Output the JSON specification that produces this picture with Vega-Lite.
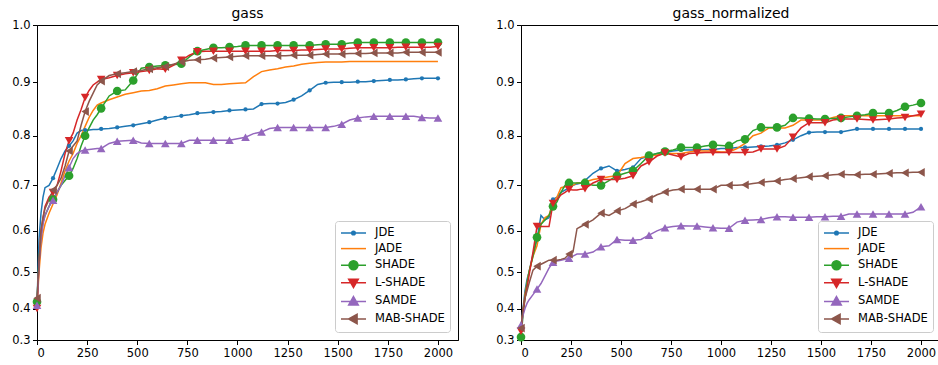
{
  "$schema": "https://vega.github.io/schema/vega-lite/v6.json",
  "padding": {"left": 6, "top": 6, "right": 0, "bottom": 0},
  "config": {
    "font": "DejaVu Sans",
    "view": {"stroke": "#000000", "strokeWidth": 1},
    "axis": {
      "grid": false,
      "domainColor": "#000000",
      "tickColor": "#000000",
      "tickSize": 4.5,
      "labelFontSize": 11.5,
      "labelColor": "#000000",
      "labelFont": "DejaVu Sans",
      "labelPadding": 2.5,
      "title": null
    },
    "title": {"fontSize": 14, "fontWeight": "normal", "color": "#000000", "font": "DejaVu Sans", "offset": -2}
  },
  "datasets": {
    "runs": [
      {"p":"gass","x":0,"JDE":0.41,"JADE":0.40,"SHADE":0.42,"L-SHADE":0.40,"SAMDE":0.41,"MAB-SHADE":0.43},
      {"p":"gass","x":10,"JDE":0.58,"JADE":0.50,"SHADE":0.53,"L-SHADE":0.52,"SAMDE":0.52,"MAB-SHADE":0.52},
      {"p":"gass","x":20,"JDE":0.64,"JADE":0.56,"SHADE":0.59,"L-SHADE":0.60,"SAMDE":0.58,"MAB-SHADE":0.60},
      {"p":"gass","x":30,"JDE":0.675,"JADE":0.595,"SHADE":0.62,"L-SHADE":0.63,"SAMDE":0.615,"MAB-SHADE":0.63},
      {"p":"gass","x":40,"JDE":0.695,"JADE":0.615,"SHADE":0.635,"L-SHADE":0.655,"SAMDE":0.635,"MAB-SHADE":0.65},
      {"p":"gass","x":60,"JDE":0.70,"JADE":0.64,"SHADE":0.655,"L-SHADE":0.675,"SAMDE":0.655,"MAB-SHADE":0.67},
      {"p":"gass","x":80,"JDE":0.715,"JADE":0.66,"SHADE":0.67,"L-SHADE":0.685,"SAMDE":0.668,"MAB-SHADE":0.69},
      {"p":"gass","x":100,"JDE":0.735,"JADE":0.68,"SHADE":0.685,"L-SHADE":0.70,"SAMDE":0.685,"MAB-SHADE":0.70},
      {"p":"gass","x":120,"JDE":0.755,"JADE":0.705,"SHADE":0.70,"L-SHADE":0.73,"SAMDE":0.70,"MAB-SHADE":0.715},
      {"p":"gass","x":140,"JDE":0.77,"JADE":0.73,"SHADE":0.71,"L-SHADE":0.765,"SAMDE":0.72,"MAB-SHADE":0.74},
      {"p":"gass","x":160,"JDE":0.78,"JADE":0.75,"SHADE":0.72,"L-SHADE":0.79,"SAMDE":0.737,"MAB-SHADE":0.77},
      {"p":"gass","x":180,"JDE":0.79,"JADE":0.765,"SHADE":0.735,"L-SHADE":0.805,"SAMDE":0.755,"MAB-SHADE":0.78},
      {"p":"gass","x":200,"JDE":0.805,"JADE":0.785,"SHADE":0.755,"L-SHADE":0.83,"SAMDE":0.765,"MAB-SHADE":0.79},
      {"p":"gass","x":220,"JDE":0.81,"JADE":0.80,"SHADE":0.78,"L-SHADE":0.85,"SAMDE":0.77,"MAB-SHADE":0.82},
      {"p":"gass","x":240,"JDE":0.811,"JADE":0.818,"SHADE":0.80,"L-SHADE":0.872,"SAMDE":0.772,"MAB-SHADE":0.846},
      {"p":"gass","x":260,"JDE":0.811,"JADE":0.835,"SHADE":0.815,"L-SHADE":0.885,"SAMDE":0.773,"MAB-SHADE":0.865},
      {"p":"gass","x":280,"JDE":0.812,"JADE":0.848,"SHADE":0.83,"L-SHADE":0.895,"SAMDE":0.774,"MAB-SHADE":0.88},
      {"p":"gass","x":300,"JDE":0.812,"JADE":0.858,"SHADE":0.84,"L-SHADE":0.90,"SAMDE":0.775,"MAB-SHADE":0.895},
      {"p":"gass","x":320,"JDE":0.813,"JADE":0.862,"SHADE":0.852,"L-SHADE":0.905,"SAMDE":0.775,"MAB-SHADE":0.902},
      {"p":"gass","x":360,"JDE":0.814,"JADE":0.868,"SHADE":0.875,"L-SHADE":0.908,"SAMDE":0.785,"MAB-SHADE":0.912},
      {"p":"gass","x":400,"JDE":0.816,"JADE":0.873,"SHADE":0.884,"L-SHADE":0.912,"SAMDE":0.789,"MAB-SHADE":0.915},
      {"p":"gass","x":440,"JDE":0.818,"JADE":0.878,"SHADE":0.886,"L-SHADE":0.915,"SAMDE":0.79,"MAB-SHADE":0.917},
      {"p":"gass","x":480,"JDE":0.82,"JADE":0.881,"SHADE":0.903,"L-SHADE":0.917,"SAMDE":0.791,"MAB-SHADE":0.919},
      {"p":"gass","x":520,"JDE":0.823,"JADE":0.884,"SHADE":0.925,"L-SHADE":0.919,"SAMDE":0.786,"MAB-SHADE":0.921},
      {"p":"gass","x":560,"JDE":0.826,"JADE":0.885,"SHADE":0.927,"L-SHADE":0.921,"SAMDE":0.785,"MAB-SHADE":0.924},
      {"p":"gass","x":600,"JDE":0.83,"JADE":0.888,"SHADE":0.929,"L-SHADE":0.924,"SAMDE":0.785,"MAB-SHADE":0.926},
      {"p":"gass","x":640,"JDE":0.834,"JADE":0.893,"SHADE":0.93,"L-SHADE":0.923,"SAMDE":0.785,"MAB-SHADE":0.928},
      {"p":"gass","x":680,"JDE":0.836,"JADE":0.895,"SHADE":0.931,"L-SHADE":0.93,"SAMDE":0.785,"MAB-SHADE":0.932},
      {"p":"gass","x":720,"JDE":0.838,"JADE":0.897,"SHADE":0.933,"L-SHADE":0.939,"SAMDE":0.785,"MAB-SHADE":0.936},
      {"p":"gass","x":760,"JDE":0.84,"JADE":0.899,"SHADE":0.945,"L-SHADE":0.948,"SAMDE":0.791,"MAB-SHADE":0.939},
      {"p":"gass","x":800,"JDE":0.843,"JADE":0.899,"SHADE":0.955,"L-SHADE":0.954,"SAMDE":0.791,"MAB-SHADE":0.94},
      {"p":"gass","x":840,"JDE":0.844,"JADE":0.899,"SHADE":0.958,"L-SHADE":0.955,"SAMDE":0.791,"MAB-SHADE":0.941},
      {"p":"gass","x":880,"JDE":0.845,"JADE":0.896,"SHADE":0.961,"L-SHADE":0.955,"SAMDE":0.791,"MAB-SHADE":0.943},
      {"p":"gass","x":920,"JDE":0.846,"JADE":0.896,"SHADE":0.961,"L-SHADE":0.955,"SAMDE":0.791,"MAB-SHADE":0.944},
      {"p":"gass","x":960,"JDE":0.848,"JADE":0.897,"SHADE":0.962,"L-SHADE":0.955,"SAMDE":0.791,"MAB-SHADE":0.945},
      {"p":"gass","x":1000,"JDE":0.849,"JADE":0.898,"SHADE":0.963,"L-SHADE":0.955,"SAMDE":0.794,"MAB-SHADE":0.946},
      {"p":"gass","x":1040,"JDE":0.85,"JADE":0.899,"SHADE":0.965,"L-SHADE":0.955,"SAMDE":0.797,"MAB-SHADE":0.947},
      {"p":"gass","x":1080,"JDE":0.851,"JADE":0.91,"SHADE":0.965,"L-SHADE":0.955,"SAMDE":0.804,"MAB-SHADE":0.947},
      {"p":"gass","x":1120,"JDE":0.86,"JADE":0.919,"SHADE":0.965,"L-SHADE":0.955,"SAMDE":0.807,"MAB-SHADE":0.947},
      {"p":"gass","x":1160,"JDE":0.861,"JADE":0.922,"SHADE":0.965,"L-SHADE":0.955,"SAMDE":0.814,"MAB-SHADE":0.947},
      {"p":"gass","x":1200,"JDE":0.861,"JADE":0.924,"SHADE":0.965,"L-SHADE":0.956,"SAMDE":0.816,"MAB-SHADE":0.947},
      {"p":"gass","x":1240,"JDE":0.863,"JADE":0.927,"SHADE":0.965,"L-SHADE":0.956,"SAMDE":0.816,"MAB-SHADE":0.947},
      {"p":"gass","x":1280,"JDE":0.868,"JADE":0.929,"SHADE":0.965,"L-SHADE":0.956,"SAMDE":0.816,"MAB-SHADE":0.948},
      {"p":"gass","x":1320,"JDE":0.875,"JADE":0.932,"SHADE":0.965,"L-SHADE":0.957,"SAMDE":0.816,"MAB-SHADE":0.948},
      {"p":"gass","x":1360,"JDE":0.885,"JADE":0.934,"SHADE":0.965,"L-SHADE":0.957,"SAMDE":0.816,"MAB-SHADE":0.948},
      {"p":"gass","x":1400,"JDE":0.896,"JADE":0.935,"SHADE":0.966,"L-SHADE":0.958,"SAMDE":0.816,"MAB-SHADE":0.949},
      {"p":"gass","x":1440,"JDE":0.899,"JADE":0.936,"SHADE":0.967,"L-SHADE":0.959,"SAMDE":0.816,"MAB-SHADE":0.95},
      {"p":"gass","x":1480,"JDE":0.90,"JADE":0.936,"SHADE":0.967,"L-SHADE":0.959,"SAMDE":0.818,"MAB-SHADE":0.95},
      {"p":"gass","x":1520,"JDE":0.90,"JADE":0.936,"SHADE":0.967,"L-SHADE":0.959,"SAMDE":0.822,"MAB-SHADE":0.95},
      {"p":"gass","x":1560,"JDE":0.90,"JADE":0.937,"SHADE":0.969,"L-SHADE":0.96,"SAMDE":0.83,"MAB-SHADE":0.951},
      {"p":"gass","x":1600,"JDE":0.901,"JADE":0.937,"SHADE":0.97,"L-SHADE":0.961,"SAMDE":0.834,"MAB-SHADE":0.951},
      {"p":"gass","x":1640,"JDE":0.901,"JADE":0.937,"SHADE":0.97,"L-SHADE":0.961,"SAMDE":0.836,"MAB-SHADE":0.951},
      {"p":"gass","x":1680,"JDE":0.902,"JADE":0.937,"SHADE":0.97,"L-SHADE":0.961,"SAMDE":0.837,"MAB-SHADE":0.952},
      {"p":"gass","x":1720,"JDE":0.903,"JADE":0.937,"SHADE":0.97,"L-SHADE":0.961,"SAMDE":0.837,"MAB-SHADE":0.952},
      {"p":"gass","x":1760,"JDE":0.904,"JADE":0.937,"SHADE":0.97,"L-SHADE":0.961,"SAMDE":0.837,"MAB-SHADE":0.952},
      {"p":"gass","x":1800,"JDE":0.904,"JADE":0.937,"SHADE":0.97,"L-SHADE":0.962,"SAMDE":0.837,"MAB-SHADE":0.952},
      {"p":"gass","x":1840,"JDE":0.905,"JADE":0.937,"SHADE":0.97,"L-SHADE":0.962,"SAMDE":0.837,"MAB-SHADE":0.953},
      {"p":"gass","x":1880,"JDE":0.906,"JADE":0.937,"SHADE":0.97,"L-SHADE":0.962,"SAMDE":0.837,"MAB-SHADE":0.953},
      {"p":"gass","x":1920,"JDE":0.907,"JADE":0.937,"SHADE":0.97,"L-SHADE":0.962,"SAMDE":0.835,"MAB-SHADE":0.953},
      {"p":"gass","x":1960,"JDE":0.907,"JADE":0.937,"SHADE":0.97,"L-SHADE":0.962,"SAMDE":0.834,"MAB-SHADE":0.953},
      {"p":"gass","x":2000,"JDE":0.907,"JADE":0.937,"SHADE":0.97,"L-SHADE":0.963,"SAMDE":0.834,"MAB-SHADE":0.953},

      {"p":"gass_normalized","x":0,"JDE":0.34,"JADE":0.34,"SHADE":0.31,"L-SHADE":0.33,"SAMDE":0.35,"MAB-SHADE":0.34},
      {"p":"gass_normalized","x":10,"JDE":0.40,"JADE":0.39,"SHADE":0.38,"L-SHADE":0.39,"SAMDE":0.38,"MAB-SHADE":0.40},
      {"p":"gass_normalized","x":20,"JDE":0.45,"JADE":0.44,"SHADE":0.43,"L-SHADE":0.43,"SAMDE":0.40,"MAB-SHADE":0.43},
      {"p":"gass_normalized","x":30,"JDE":0.48,"JADE":0.47,"SHADE":0.47,"L-SHADE":0.46,"SAMDE":0.415,"MAB-SHADE":0.45},
      {"p":"gass_normalized","x":40,"JDE":0.50,"JADE":0.50,"SHADE":0.50,"L-SHADE":0.49,"SAMDE":0.425,"MAB-SHADE":0.47},
      {"p":"gass_normalized","x":60,"JDE":0.545,"JADE":0.54,"SHADE":0.54,"L-SHADE":0.55,"SAMDE":0.44,"MAB-SHADE":0.505},
      {"p":"gass_normalized","x":80,"JDE":0.58,"JADE":0.565,"SHADE":0.585,"L-SHADE":0.61,"SAMDE":0.455,"MAB-SHADE":0.515},
      {"p":"gass_normalized","x":100,"JDE":0.635,"JADE":0.615,"SHADE":0.615,"L-SHADE":0.61,"SAMDE":0.47,"MAB-SHADE":0.52},
      {"p":"gass_normalized","x":120,"JDE":0.625,"JADE":0.63,"SHADE":0.625,"L-SHADE":0.61,"SAMDE":0.49,"MAB-SHADE":0.525},
      {"p":"gass_normalized","x":140,"JDE":0.63,"JADE":0.635,"SHADE":0.635,"L-SHADE":0.61,"SAMDE":0.51,"MAB-SHADE":0.53},
      {"p":"gass_normalized","x":160,"JDE":0.67,"JADE":0.665,"SHADE":0.655,"L-SHADE":0.661,"SAMDE":0.525,"MAB-SHADE":0.53},
      {"p":"gass_normalized","x":180,"JDE":0.675,"JADE":0.675,"SHADE":0.665,"L-SHADE":0.67,"SAMDE":0.528,"MAB-SHADE":0.53},
      {"p":"gass_normalized","x":200,"JDE":0.685,"JADE":0.695,"SHADE":0.685,"L-SHADE":0.68,"SAMDE":0.53,"MAB-SHADE":0.532},
      {"p":"gass_normalized","x":220,"JDE":0.69,"JADE":0.697,"SHADE":0.70,"L-SHADE":0.685,"SAMDE":0.532,"MAB-SHADE":0.535},
      {"p":"gass_normalized","x":240,"JDE":0.695,"JADE":0.70,"SHADE":0.705,"L-SHADE":0.691,"SAMDE":0.535,"MAB-SHADE":0.545},
      {"p":"gass_normalized","x":260,"JDE":0.70,"JADE":0.70,"SHADE":0.705,"L-SHADE":0.69,"SAMDE":0.54,"MAB-SHADE":0.55},
      {"p":"gass_normalized","x":280,"JDE":0.703,"JADE":0.705,"SHADE":0.705,"L-SHADE":0.69,"SAMDE":0.545,"MAB-SHADE":0.605},
      {"p":"gass_normalized","x":300,"JDE":0.705,"JADE":0.705,"SHADE":0.705,"L-SHADE":0.692,"SAMDE":0.545,"MAB-SHADE":0.61},
      {"p":"gass_normalized","x":320,"JDE":0.71,"JADE":0.707,"SHADE":0.705,"L-SHADE":0.693,"SAMDE":0.545,"MAB-SHADE":0.615},
      {"p":"gass_normalized","x":360,"JDE":0.725,"JADE":0.712,"SHADE":0.70,"L-SHADE":0.705,"SAMDE":0.55,"MAB-SHADE":0.625},
      {"p":"gass_normalized","x":400,"JDE":0.735,"JADE":0.715,"SHADE":0.70,"L-SHADE":0.712,"SAMDE":0.563,"MAB-SHADE":0.64},
      {"p":"gass_normalized","x":440,"JDE":0.74,"JADE":0.718,"SHADE":0.71,"L-SHADE":0.712,"SAMDE":0.565,"MAB-SHADE":0.635},
      {"p":"gass_normalized","x":480,"JDE":0.73,"JADE":0.72,"SHADE":0.72,"L-SHADE":0.712,"SAMDE":0.58,"MAB-SHADE":0.645},
      {"p":"gass_normalized","x":520,"JDE":0.733,"JADE":0.745,"SHADE":0.725,"L-SHADE":0.715,"SAMDE":0.578,"MAB-SHADE":0.65},
      {"p":"gass_normalized","x":560,"JDE":0.737,"JADE":0.755,"SHADE":0.73,"L-SHADE":0.72,"SAMDE":0.578,"MAB-SHADE":0.66},
      {"p":"gass_normalized","x":600,"JDE":0.755,"JADE":0.757,"SHADE":0.745,"L-SHADE":0.74,"SAMDE":0.58,"MAB-SHADE":0.665},
      {"p":"gass_normalized","x":640,"JDE":0.76,"JADE":0.76,"SHADE":0.761,"L-SHADE":0.748,"SAMDE":0.59,"MAB-SHADE":0.671},
      {"p":"gass_normalized","x":680,"JDE":0.765,"JADE":0.762,"SHADE":0.765,"L-SHADE":0.76,"SAMDE":0.60,"MAB-SHADE":0.68},
      {"p":"gass_normalized","x":720,"JDE":0.767,"JADE":0.765,"SHADE":0.769,"L-SHADE":0.766,"SAMDE":0.607,"MAB-SHADE":0.686},
      {"p":"gass_normalized","x":760,"JDE":0.77,"JADE":0.765,"SHADE":0.772,"L-SHADE":0.762,"SAMDE":0.61,"MAB-SHADE":0.69},
      {"p":"gass_normalized","x":800,"JDE":0.772,"JADE":0.765,"SHADE":0.777,"L-SHADE":0.758,"SAMDE":0.612,"MAB-SHADE":0.692},
      {"p":"gass_normalized","x":840,"JDE":0.772,"JADE":0.768,"SHADE":0.777,"L-SHADE":0.765,"SAMDE":0.611,"MAB-SHADE":0.692},
      {"p":"gass_normalized","x":880,"JDE":0.772,"JADE":0.77,"SHADE":0.777,"L-SHADE":0.766,"SAMDE":0.611,"MAB-SHADE":0.692},
      {"p":"gass_normalized","x":920,"JDE":0.773,"JADE":0.77,"SHADE":0.78,"L-SHADE":0.767,"SAMDE":0.609,"MAB-SHADE":0.692},
      {"p":"gass_normalized","x":960,"JDE":0.773,"JADE":0.77,"SHADE":0.782,"L-SHADE":0.767,"SAMDE":0.607,"MAB-SHADE":0.692},
      {"p":"gass_normalized","x":1000,"JDE":0.775,"JADE":0.768,"SHADE":0.781,"L-SHADE":0.767,"SAMDE":0.606,"MAB-SHADE":0.70},
      {"p":"gass_normalized","x":1040,"JDE":0.775,"JADE":0.768,"SHADE":0.78,"L-SHADE":0.767,"SAMDE":0.606,"MAB-SHADE":0.70},
      {"p":"gass_normalized","x":1080,"JDE":0.777,"JADE":0.775,"SHADE":0.79,"L-SHADE":0.767,"SAMDE":0.62,"MAB-SHADE":0.70},
      {"p":"gass_normalized","x":1120,"JDE":0.777,"JADE":0.785,"SHADE":0.793,"L-SHADE":0.767,"SAMDE":0.624,"MAB-SHADE":0.701},
      {"p":"gass_normalized","x":1160,"JDE":0.778,"JADE":0.80,"SHADE":0.81,"L-SHADE":0.768,"SAMDE":0.625,"MAB-SHADE":0.704},
      {"p":"gass_normalized","x":1200,"JDE":0.779,"JADE":0.805,"SHADE":0.816,"L-SHADE":0.774,"SAMDE":0.626,"MAB-SHADE":0.706},
      {"p":"gass_normalized","x":1240,"JDE":0.78,"JADE":0.815,"SHADE":0.816,"L-SHADE":0.774,"SAMDE":0.63,"MAB-SHADE":0.708},
      {"p":"gass_normalized","x":1280,"JDE":0.782,"JADE":0.815,"SHADE":0.816,"L-SHADE":0.774,"SAMDE":0.632,"MAB-SHADE":0.709},
      {"p":"gass_normalized","x":1320,"JDE":0.786,"JADE":0.815,"SHADE":0.82,"L-SHADE":0.78,"SAMDE":0.632,"MAB-SHADE":0.712},
      {"p":"gass_normalized","x":1360,"JDE":0.792,"JADE":0.82,"SHADE":0.834,"L-SHADE":0.797,"SAMDE":0.631,"MAB-SHADE":0.714},
      {"p":"gass_normalized","x":1400,"JDE":0.80,"JADE":0.83,"SHADE":0.834,"L-SHADE":0.815,"SAMDE":0.631,"MAB-SHADE":0.716},
      {"p":"gass_normalized","x":1440,"JDE":0.806,"JADE":0.83,"SHADE":0.833,"L-SHADE":0.825,"SAMDE":0.631,"MAB-SHADE":0.718},
      {"p":"gass_normalized","x":1480,"JDE":0.807,"JADE":0.83,"SHADE":0.832,"L-SHADE":0.825,"SAMDE":0.632,"MAB-SHADE":0.719},
      {"p":"gass_normalized","x":1520,"JDE":0.807,"JADE":0.83,"SHADE":0.832,"L-SHADE":0.825,"SAMDE":0.632,"MAB-SHADE":0.72},
      {"p":"gass_normalized","x":1560,"JDE":0.807,"JADE":0.835,"SHADE":0.833,"L-SHADE":0.83,"SAMDE":0.633,"MAB-SHADE":0.722},
      {"p":"gass_normalized","x":1600,"JDE":0.807,"JADE":0.838,"SHADE":0.834,"L-SHADE":0.832,"SAMDE":0.633,"MAB-SHADE":0.723},
      {"p":"gass_normalized","x":1640,"JDE":0.81,"JADE":0.838,"SHADE":0.836,"L-SHADE":0.832,"SAMDE":0.638,"MAB-SHADE":0.722},
      {"p":"gass_normalized","x":1680,"JDE":0.813,"JADE":0.838,"SHADE":0.838,"L-SHADE":0.832,"SAMDE":0.638,"MAB-SHADE":0.722},
      {"p":"gass_normalized","x":1720,"JDE":0.813,"JADE":0.838,"SHADE":0.84,"L-SHADE":0.831,"SAMDE":0.638,"MAB-SHADE":0.723},
      {"p":"gass_normalized","x":1760,"JDE":0.813,"JADE":0.838,"SHADE":0.843,"L-SHADE":0.83,"SAMDE":0.638,"MAB-SHADE":0.723},
      {"p":"gass_normalized","x":1800,"JDE":0.813,"JADE":0.838,"SHADE":0.843,"L-SHADE":0.831,"SAMDE":0.638,"MAB-SHADE":0.724},
      {"p":"gass_normalized","x":1840,"JDE":0.813,"JADE":0.838,"SHADE":0.843,"L-SHADE":0.832,"SAMDE":0.638,"MAB-SHADE":0.725},
      {"p":"gass_normalized","x":1880,"JDE":0.813,"JADE":0.838,"SHADE":0.848,"L-SHADE":0.834,"SAMDE":0.638,"MAB-SHADE":0.726},
      {"p":"gass_normalized","x":1920,"JDE":0.813,"JADE":0.838,"SHADE":0.855,"L-SHADE":0.835,"SAMDE":0.638,"MAB-SHADE":0.726},
      {"p":"gass_normalized","x":1960,"JDE":0.813,"JADE":0.838,"SHADE":0.858,"L-SHADE":0.838,"SAMDE":0.642,"MAB-SHADE":0.727},
      {"p":"gass_normalized","x":2000,"JDE":0.813,"JADE":0.838,"SHADE":0.862,"L-SHADE":0.841,"SAMDE":0.654,"MAB-SHADE":0.727}
    ]
  },
  "data": {"name": "runs"},
  "spacing": 31,
  "resolve": {
    "scale": {"color": "independent", "shape": "independent"},
    "legend": {"color": "independent", "shape": "independent"}
  },
  "hconcat": [
    {
      "name": "left",
      "title": "gass",
      "width": 421,
      "height": 315,
      "transform": [
        {"filter": "datum.p === 'gass'"},
        {"fold": ["JDE", "JADE", "SHADE", "L-SHADE", "SAMDE", "MAB-SHADE"], "as": ["algo", "acc"]}
      ],
      "encoding": {
        "x": {"field": "x", "type": "quantitative",
              "scale": {"domain": [0, 2100], "nice": false, "zero": false},
              "axis": {"values": [0, 250, 500, 750, 1000, 1250, 1500, 1750, 2000], "format": "d", "minExtent": 22, "maxExtent": 22}},
        "y": {"field": "acc", "type": "quantitative",
              "scale": {"type": "pow", "exponent": 1.6, "domain": [0.3, 1.0], "nice": false, "zero": false},
              "axis": {"values": [0.3, 0.4, 0.5, 0.6, 0.7, 0.8, 0.9, 1.0], "format": ".1f", "minExtent": 30, "maxExtent": 30}},
        "color": {"field": "algo", "type": "nominal",
                  "scale": {"domain": ["JDE", "JADE", "SHADE", "L-SHADE", "SAMDE", "MAB-SHADE"],
                            "range": ["#1f77b4", "#ff7f0e", "#2ca02c", "#d62728", "#9467bd", "#8c564b"]},
                  "legend": {
                    "title": null, "orient": "bottom-right", "offset": 8, "padding": 5,
                    "strokeColor": "#cccccc", "fillColor": "rgba(255,255,255,0.8)", "cornerRadius": 3,
                    "labelFontSize": 11.5, "labelColor": "#000000", "labelFont": "DejaVu Sans", "labelOffset": 21,
                    "symbolSize": 144, "symbolStrokeWidth": 1.5, "rowPadding": 2.6,
                    "encode": {"symbols": {"update": {
                      "shape": {"signal": "datum.value === 'JDE' ? 'M-1,0H3.17M0.78,0A0.3,0.3,0,1,0,1.38,0A0.3,0.3,0,1,0,0.78,0Z' : datum.value === 'JADE' ? 'M-1,0H3.17' : datum.value === 'SHADE' ? 'M-1,0H3.17M0.33,0A0.75,0.75,0,1,0,1.83,0A0.75,0.75,0,1,0,0.33,0Z' : datum.value === 'L-SHADE' ? 'M-1,0H3.17M0.28,-0.6L1.88,-0.6L1.08,0.8Z' : datum.value === 'SAMDE' ? 'M-1,0H3.17M1.08,-0.8L1.88,0.6L0.28,0.6Z' : 'M-1,0H3.17M0.28,0L1.68,-0.8L1.68,0.8Z'"},
                      "fill": {"signal": "({'JDE':'#1f77b4','JADE':'#ff7f0e','SHADE':'#2ca02c','L-SHADE':'#d62728','SAMDE':'#9467bd','MAB-SHADE':'#8c564b'})[datum.value]"},
                      "stroke": {"signal": "({'JDE':'#1f77b4','JADE':'#ff7f0e','SHADE':'#2ca02c','L-SHADE':'#d62728','SAMDE':'#9467bd','MAB-SHADE':'#8c564b'})[datum.value]"},
                      "opacity": {"value": 1}
                    }}}
                  }}
      },
      "layer": [
        {"mark": {"type": "line", "strokeWidth": 1.5}},
        {
          "transform": [{"filter": "datum.x % 80 === 0 && datum.algo !== 'JADE'"}],
          "mark": {"type": "point", "filled": true, "opacity": 1},
          "encoding": {
            "shape": {"field": "algo", "type": "nominal",
                      "scale": {"domain": ["JDE", "SHADE", "L-SHADE", "SAMDE", "MAB-SHADE"],
                                "range": ["circle", "circle", "triangle-down", "triangle-up", "triangle-left"]},
                      "legend": null},
            "size": {"condition": {"test": "datum.algo === 'JDE'", "value": 18}, "value": 75}
          }
        }
      ]
    },
    {
      "name": "right",
      "title": "gass_normalized",
      "width": 420,
      "height": 315,
      "transform": [
        {"filter": "datum.p === 'gass_normalized'"},
        {"fold": ["JDE", "JADE", "SHADE", "L-SHADE", "SAMDE", "MAB-SHADE"], "as": ["algo", "acc"]}
      ],
      "encoding": {
        "x": {"field": "x", "type": "quantitative",
              "scale": {"domain": [0, 2100], "nice": false, "zero": false},
              "axis": {"values": [0, 250, 500, 750, 1000, 1250, 1500, 1750, 2000], "format": "d", "minExtent": 22, "maxExtent": 22}},
        "y": {"field": "acc", "type": "quantitative",
              "scale": {"type": "pow", "exponent": 1.6, "domain": [0.3, 1.0], "nice": false, "zero": false},
              "axis": {"values": [0.3, 0.4, 0.5, 0.6, 0.7, 0.8, 0.9, 1.0], "format": ".1f", "minExtent": 30, "maxExtent": 30}},
        "color": {"field": "algo", "type": "nominal",
                  "scale": {"domain": ["JDE", "JADE", "SHADE", "L-SHADE", "SAMDE", "MAB-SHADE"],
                            "range": ["#1f77b4", "#ff7f0e", "#2ca02c", "#d62728", "#9467bd", "#8c564b"]},
                  "legend": {
                    "title": null, "orient": "bottom-right", "offset": 8, "padding": 5,
                    "strokeColor": "#cccccc", "fillColor": "rgba(255,255,255,0.8)", "cornerRadius": 3,
                    "labelFontSize": 11.5, "labelColor": "#000000", "labelFont": "DejaVu Sans", "labelOffset": 21,
                    "symbolSize": 144, "symbolStrokeWidth": 1.5, "rowPadding": 2.6,
                    "encode": {"symbols": {"update": {
                      "shape": {"signal": "datum.value === 'JDE' ? 'M-1,0H3.17M0.78,0A0.3,0.3,0,1,0,1.38,0A0.3,0.3,0,1,0,0.78,0Z' : datum.value === 'JADE' ? 'M-1,0H3.17' : datum.value === 'SHADE' ? 'M-1,0H3.17M0.33,0A0.75,0.75,0,1,0,1.83,0A0.75,0.75,0,1,0,0.33,0Z' : datum.value === 'L-SHADE' ? 'M-1,0H3.17M0.28,-0.6L1.88,-0.6L1.08,0.8Z' : datum.value === 'SAMDE' ? 'M-1,0H3.17M1.08,-0.8L1.88,0.6L0.28,0.6Z' : 'M-1,0H3.17M0.28,0L1.68,-0.8L1.68,0.8Z'"},
                      "fill": {"signal": "({'JDE':'#1f77b4','JADE':'#ff7f0e','SHADE':'#2ca02c','L-SHADE':'#d62728','SAMDE':'#9467bd','MAB-SHADE':'#8c564b'})[datum.value]"},
                      "stroke": {"signal": "({'JDE':'#1f77b4','JADE':'#ff7f0e','SHADE':'#2ca02c','L-SHADE':'#d62728','SAMDE':'#9467bd','MAB-SHADE':'#8c564b'})[datum.value]"},
                      "opacity": {"value": 1}
                    }}}
                  }}
      },
      "layer": [
        {"mark": {"type": "line", "strokeWidth": 1.5}},
        {
          "transform": [{"filter": "datum.x % 80 === 0 && datum.algo !== 'JADE'"}],
          "mark": {"type": "point", "filled": true, "opacity": 1},
          "encoding": {
            "shape": {"field": "algo", "type": "nominal",
                      "scale": {"domain": ["JDE", "SHADE", "L-SHADE", "SAMDE", "MAB-SHADE"],
                                "range": ["circle", "circle", "triangle-down", "triangle-up", "triangle-left"]},
                      "legend": null},
            "size": {"condition": {"test": "datum.algo === 'JDE'", "value": 18}, "value": 75}
          }
        }
      ]
    }
  ]
}
